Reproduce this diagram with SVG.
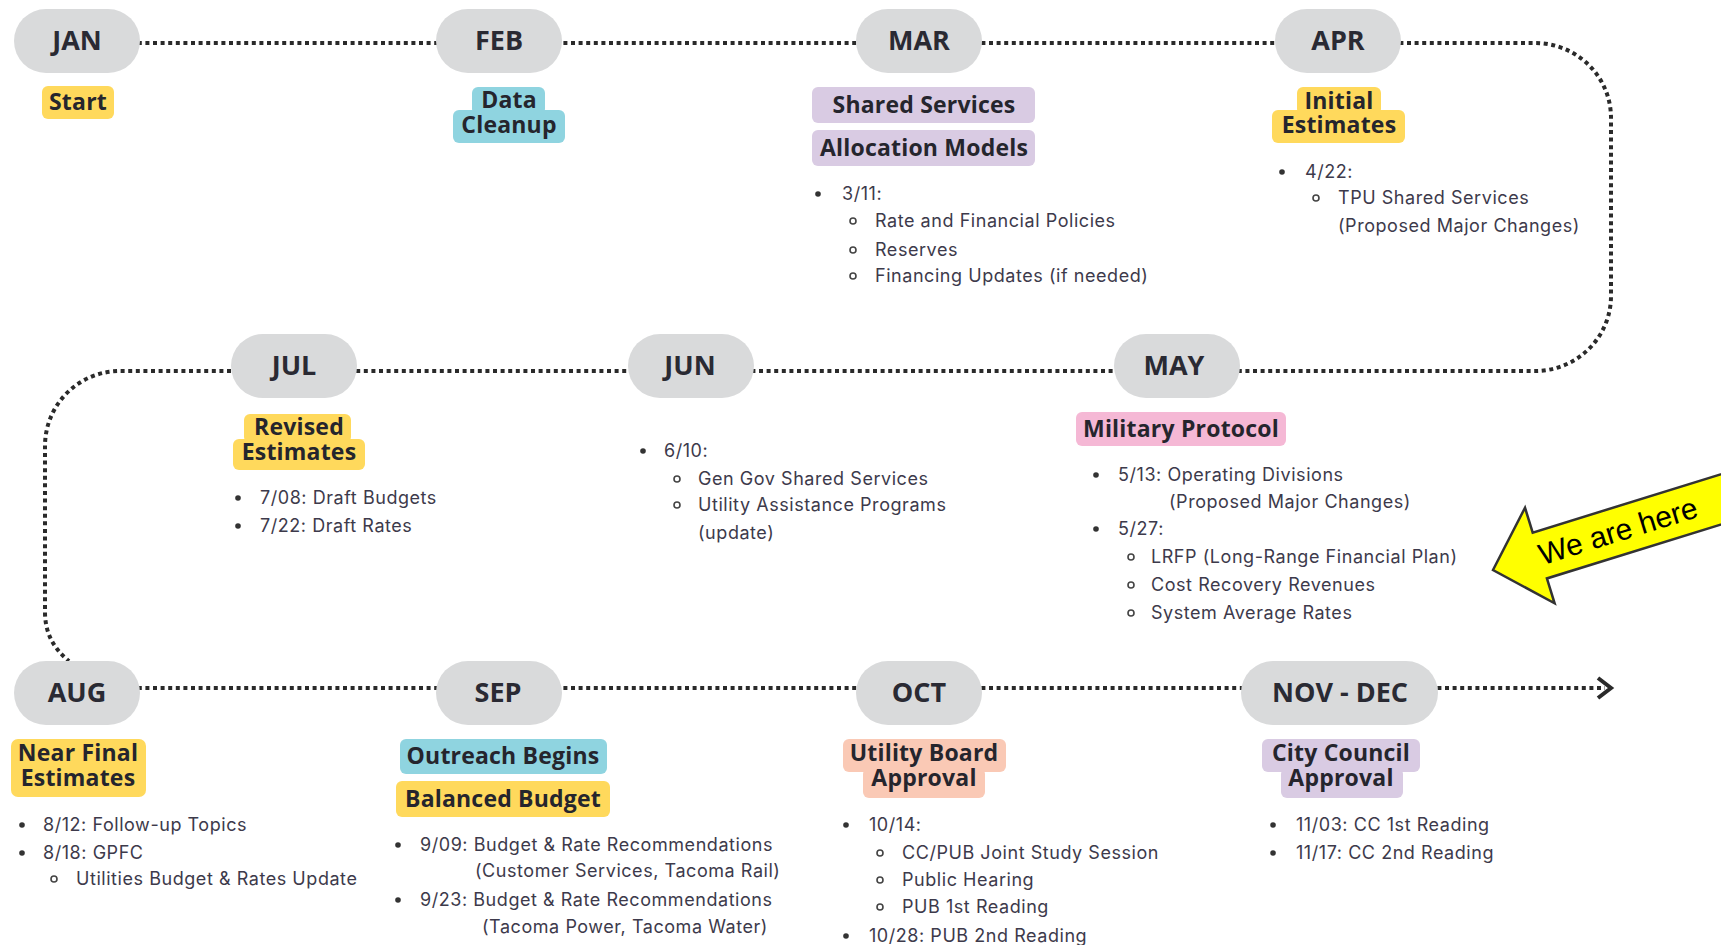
<svg xmlns="http://www.w3.org/2000/svg" width="1721" height="945" viewBox="0 0 1721 945">
<defs>
<style>
.pill{fill:#d9dadb}
.mon{font-family:"Open Sans","DejaVu Sans",sans-serif;font-weight:700;font-size:27px;fill:#2a2a33;text-anchor:middle}
.tag{font-family:"Open Sans","DejaVu Sans",sans-serif;font-weight:700;font-size:23px;letter-spacing:0.2px;fill:#25252d;text-anchor:middle}
.body{font-family:Inter,"Noto Sans",sans-serif;font-weight:400;font-size:18px;letter-spacing:0.55px;fill:#3d3a4b}
.b1{fill:#333}
.b2{fill:none;stroke:#444;stroke-width:1.6}
.conn{fill:none;stroke:#2a2a2a;stroke-width:4;stroke-dasharray:4 3.6}
.yel{fill:#ffd95c}.teal{fill:#8fd4e0}.pur{fill:#d9cbe3}.pink{fill:#f5b8d5}.sal{fill:#fac9b5}
</style>
</defs>
<rect width="1721" height="945" fill="#ffffff"/>
<g id="connectors">
<path class="conn" d="M 77 43 H 1535 A 76 75 0 0 1 1611 118 V 296 A 76 75 0 0 1 1535 371 H 120 A 75 75 0 0 0 45 446 V 612 Q 45 642 69 661"/>
<path class="conn" d="M 77 688 H 1605"/>
<path d="M 1598 678 L 1611 688 L 1598 698" fill="none" stroke="#2a2a2a" stroke-width="4"/>
</g>
<g id="jan">
<rect class="pill" x="14" y="9" width="126" height="64" rx="32"/>
<text class="mon" x="77" y="50">JAN</text>
<rect class="yel" x="42" y="86" width="72" height="33" rx="6"/>
<text class="tag" x="78" y="110">Start</text>
</g>
<g id="feb">
<rect class="pill" x="436" y="9" width="126" height="64" rx="32"/>
<text class="mon" x="499" y="50">FEB</text>
<rect class="teal" x="472" y="87" width="73" height="28" rx="6"/>
<rect class="teal" x="453" y="110" width="112" height="33" rx="6"/>
<text class="tag" x="509" y="108">Data</text>
<text class="tag" x="509" y="133">Cleanup</text>
</g>
<g id="mar">
<rect class="pill" x="856" y="9" width="126" height="64" rx="32"/>
<text class="mon" x="919" y="50">MAR</text>
<rect class="pur" x="812" y="87" width="223" height="36" rx="6"/>
<text class="tag" x="924" y="113">Shared Services</text>
<rect class="pur" x="812" y="130" width="223" height="36" rx="6"/>
<text class="tag" x="924" y="156">Allocation Models</text>
<circle class="b1" cx="818" cy="194" r="2.8"/>
<text class="body" x="842" y="200">3/11:</text>
<circle class="b2" cx="853" cy="221" r="3"/>
<text class="body" x="875" y="227">Rate and Financial Policies</text>
<circle class="b2" cx="853" cy="250" r="3"/>
<text class="body" x="875" y="256">Reserves</text>
<circle class="b2" cx="853" cy="276" r="3"/>
<text class="body" x="875" y="282">Financing Updates (if needed)</text>
</g>
<g id="apr">
<rect class="pill" x="1275" y="9" width="126" height="64" rx="32"/>
<text class="mon" x="1338" y="50">APR</text>
<rect class="yel" x="1297" y="87" width="84" height="28" rx="6"/>
<rect class="yel" x="1272" y="110" width="133" height="33" rx="6"/>
<text class="tag" x="1339" y="109">Initial</text>
<text class="tag" x="1339" y="133">Estimates</text>
<circle class="b1" cx="1282" cy="172" r="2.8"/>
<text class="body" x="1305" y="178">4/22:</text>
<circle class="b2" cx="1316" cy="198" r="3"/>
<text class="body" x="1338" y="204">TPU Shared Services</text>
<text class="body" x="1338" y="232">(Proposed Major Changes)</text>
</g>
<g id="may">
<rect class="pill" x="1114" y="334" width="126" height="64" rx="32"/>
<text class="mon" x="1174" y="375">MAY</text>
<rect class="pink" x="1076" y="412" width="210" height="34" rx="6"/>
<text class="tag" x="1181" y="437">Military Protocol</text>
<circle class="b1" cx="1096" cy="475" r="2.8"/>
<text class="body" x="1118" y="481">5/13: Operating Divisions</text>
<text class="body" x="1169" y="508">(Proposed Major Changes)</text>
<circle class="b1" cx="1096" cy="529" r="2.8"/>
<text class="body" x="1118" y="535">5/27:</text>
<circle class="b2" cx="1131" cy="557" r="3"/>
<text class="body" x="1151" y="563">LRFP (Long-Range Financial Plan)</text>
<circle class="b2" cx="1131" cy="585" r="3"/>
<text class="body" x="1151" y="591">Cost Recovery Revenues</text>
<circle class="b2" cx="1131" cy="613" r="3"/>
<text class="body" x="1151" y="619">System Average Rates</text>
</g>
<g id="jun">
<rect class="pill" x="628" y="334" width="126" height="64" rx="32"/>
<text class="mon" x="690" y="375">JUN</text>
<circle class="b1" cx="643" cy="451" r="2.8"/>
<text class="body" x="664" y="457">6/10:</text>
<circle class="b2" cx="677" cy="479" r="3"/>
<text class="body" x="698" y="485">Gen Gov Shared Services</text>
<circle class="b2" cx="677" cy="505" r="3"/>
<text class="body" x="698" y="511">Utility Assistance Programs</text>
<text class="body" x="698" y="539">(update)</text>
</g>
<g id="jul">
<rect class="pill" x="231" y="334" width="126" height="64" rx="32"/>
<text class="mon" x="294" y="375">JUL</text>
<rect class="yel" x="244" y="414" width="107" height="29" rx="6"/>
<rect class="yel" x="233" y="439" width="132" height="31" rx="6"/>
<text class="tag" x="299" y="435">Revised</text>
<text class="tag" x="299" y="460">Estimates</text>
<circle class="b1" cx="238" cy="498" r="2.8"/>
<text class="body" x="260" y="504">7/08: Draft Budgets</text>
<circle class="b1" cx="238" cy="526" r="2.8"/>
<text class="body" x="260" y="532">7/22: Draft Rates</text>
</g>
<g id="aug">
<rect class="pill" x="14" y="661" width="126" height="64" rx="32"/>
<text class="mon" x="77" y="702">AUG</text>
<rect class="yel" x="11" y="739" width="135" height="58" rx="7"/>
<text class="tag" x="78" y="761">Near Final</text>
<text class="tag" x="78" y="786">Estimates</text>
<circle class="b1" cx="22" cy="825" r="2.8"/>
<text class="body" x="43" y="831">8/12: Follow-up Topics</text>
<circle class="b1" cx="22" cy="853" r="2.8"/>
<text class="body" x="43" y="859">8/18: GPFC</text>
<circle class="b2" cx="54" cy="879" r="3"/>
<text class="body" x="76" y="885">Utilities Budget &amp; Rates Update</text>
</g>
<g id="sep">
<rect class="pill" x="436" y="661" width="126" height="64" rx="32"/>
<text class="mon" x="498" y="702">SEP</text>
<rect class="teal" x="400" y="739" width="207" height="35" rx="6"/>
<text class="tag" x="503" y="764">Outreach Begins</text>
<rect class="yel" x="396" y="781" width="214" height="36" rx="6"/>
<text class="tag" x="503" y="807">Balanced Budget</text>
<circle class="b1" cx="398" cy="845" r="2.8"/>
<text class="body" x="420" y="851">9/09: Budget &amp; Rate Recommendations</text>
<text class="body" x="475" y="877">(Customer Services, Tacoma Rail)</text>
<circle class="b1" cx="398" cy="900" r="2.8"/>
<text class="body" x="420" y="906">9/23: Budget &amp; Rate Recommendations</text>
<text class="body" x="482" y="933">(Tacoma Power, Tacoma Water)</text>
</g>
<g id="oct">
<rect class="pill" x="856" y="661" width="126" height="64" rx="32"/>
<text class="mon" x="919" y="702">OCT</text>
<rect class="sal" x="843" y="739" width="163" height="33" rx="6"/>
<rect class="sal" x="863" y="768" width="122" height="30" rx="6"/>
<text class="tag" x="924" y="761">Utility Board</text>
<text class="tag" x="924" y="786">Approval</text>
<circle class="b1" cx="846" cy="825" r="2.8"/>
<text class="body" x="869" y="831">10/14:</text>
<circle class="b2" cx="880" cy="853" r="3"/>
<text class="body" x="902" y="859">CC/PUB Joint Study Session</text>
<circle class="b2" cx="880" cy="880" r="3"/>
<text class="body" x="902" y="886">Public Hearing</text>
<circle class="b2" cx="880" cy="907" r="3"/>
<text class="body" x="902" y="913">PUB 1st Reading</text>
<circle class="b1" cx="846" cy="936" r="2.8"/>
<text class="body" x="869" y="942">10/28: PUB 2nd Reading</text>
</g>
<g id="novdec">
<rect class="pill" x="1241" y="661" width="197" height="64" rx="32"/>
<text class="mon" x="1340" y="702">NOV - DEC</text>
<rect class="pur" x="1262" y="739" width="158" height="33" rx="6"/>
<rect class="pur" x="1281" y="768" width="122" height="30" rx="6"/>
<text class="tag" x="1341" y="761">City Council</text>
<text class="tag" x="1341" y="786">Approval</text>
<circle class="b1" cx="1273" cy="825" r="2.8"/>
<text class="body" x="1296" y="831">11/03: CC 1st Reading</text>
<circle class="b1" cx="1273" cy="853" r="2.8"/>
<text class="body" x="1296" y="859">11/17: CC 2nd Reading</text>
</g>
<g id="we-are-here" transform="translate(1493 570) rotate(-17.2)">
<polygon points="0,0 49,-50 49,-24 300,-24 300,24 49,24 49,50" fill="#ffff00" stroke="#333" stroke-width="2.5" stroke-linejoin="miter"/>
<text x="131" y="10" font-family="'Liberation Sans',Arial,sans-serif" font-size="30" fill="#000" text-anchor="middle">We are here</text>
</g>
</svg>
